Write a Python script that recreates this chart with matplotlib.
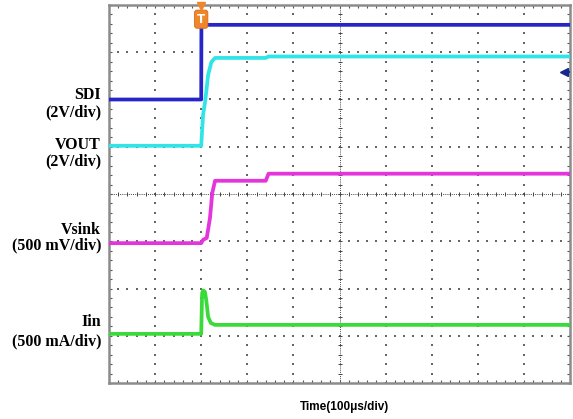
import numpy as np
import matplotlib
matplotlib.use("Agg")
import matplotlib.pyplot as plt

# time axis in microseconds (trigger at 0), traces in screen divisions
sdi_t = [-200, 0, 0.5, 800]
sdi_v = [6.0, 6.0, 7.58, 7.58]

vout_t = [-200, 0, 4, 9, 15, 22, 30, 140, 146, 800]
vout_v = [5.02, 5.02, 5.67, 5.99, 6.52, 6.79, 6.88, 6.88, 6.91, 6.91]

vsink_t = [-200, 0, 4, 12, 19, 24, 30, 140, 146, 800]
vsink_v = [2.96, 2.96, 3.03, 3.07, 3.49, 4.02, 4.28, 4.28, 4.43, 4.43]

iin_t = [-200, 0, 2, 4, 8, 11, 15, 21, 30, 800]
iin_v = [1.04, 1.04, 1.9, 1.96, 1.93, 1.75, 1.4, 1.27, 1.23, 1.23]

labels = ["SDI", "(2V/div)", "VOUT", "(2V/div)",
          "Vsink", "(500 mV/div)", "Iin", "(500 mA/div)"]
label_y_px = [95, 112, 145, 161, 230, 245, 322, 341]

W, H = 573, 419
fig = plt.figure(figsize=(W / 100, H / 100), dpi=100)
fig.patch.set_facecolor("white")
ax = fig.add_axes([109 / W, (H - 383) / H, (570 - 109) / W, (383 - 5) / H])
ax.set_xlim(-200, 800)
ax.set_ylim(0, 8)

# dotted graticule
xs_major = np.arange(-100, 800, 100)
ys_major = np.arange(1, 8)
gx = np.arange(-200, 800.1, 20)
gy = np.arange(0, 8.01, 0.2)
for x in xs_major:
    if x == 300:
        continue
    ax.scatter(np.full(gy.size, x), gy, s=1.2, marker="s", color="#666666", linewidths=0, zorder=1)
for y in ys_major:
    if y == 4:
        continue
    ax.scatter(gx, np.full(gx.size, y), s=1.2, marker="s", color="#666666", linewidths=0, zorder=1)

# center cross with small ticks
ax.axvline(300, ls=(0, (1, 1.2)), lw=0.7, color="#444444", zorder=1)
ax.axhline(4, ls=(0, (1, 1.2)), lw=0.7, color="#444444", zorder=1)
ax.scatter(np.full(gy.size, 300), gy, s=9, marker="_", color="#444444", linewidths=0.7, zorder=1)
ax.scatter(gx, np.full(gx.size, 4), s=9, marker="|", color="#444444", linewidths=0.7, zorder=1)

# traces
ax.plot(sdi_t, sdi_v, color="#2626c8", lw=2.7, zorder=3)
ax.plot(vout_t, vout_v, color="#30e4e8", lw=2.7, zorder=3)
ax.plot(vsink_t, vsink_v, color="#e434dc", lw=2.7, zorder=3)
ax.plot(iin_t, iin_v, color="#3ada3a", lw=2.7, zorder=3)

# trigger marker
ax.text(0, 7.7, "T", ha="center", va="center", fontsize=8.5, fontweight="bold",
        color="white", zorder=5,
        bbox=dict(boxstyle="round,pad=0.22", fc="#f0862a", ec="#d86a18", lw=0.6))
ax.plot([0], [7.97], marker="v", ms=6, color="#f0862a", clip_on=False, zorder=5)

# reference pointer on the right edge
ax.plot([786, 800], [6.58, 6.58], color="#14288c", lw=1.3, zorder=4)
ax.plot([787], [6.58], marker="<", ms=6, color="#14288c", zorder=4)

ax.set_xticks(xs_major)
ax.set_yticks(ys_major)
ax.set_xticks(gx, minor=True)
ax.set_yticks(gy, minor=True)
ax.tick_params(which="both", direction="in", length=2, width=0.8, color="#555555",
               labelbottom=False, labelleft=False, top=True, right=True)
for s in ax.spines.values():
    s.set_color("#8c8c8c")
    s.set_linewidth(1.8)

for text, y in zip(labels, label_y_px):
    fig.text(101 / W, 1 - y / H, text, ha="right", va="center",
             family="Liberation Serif", fontweight="bold", fontsize=11.5)

fig.text(344 / W, 1 - 407 / H, "Time(100μs/div)", ha="center", va="center",
         family="Liberation Sans", fontweight="bold", fontsize=8.5)

fig.savefig("out.png", dpi=100)
